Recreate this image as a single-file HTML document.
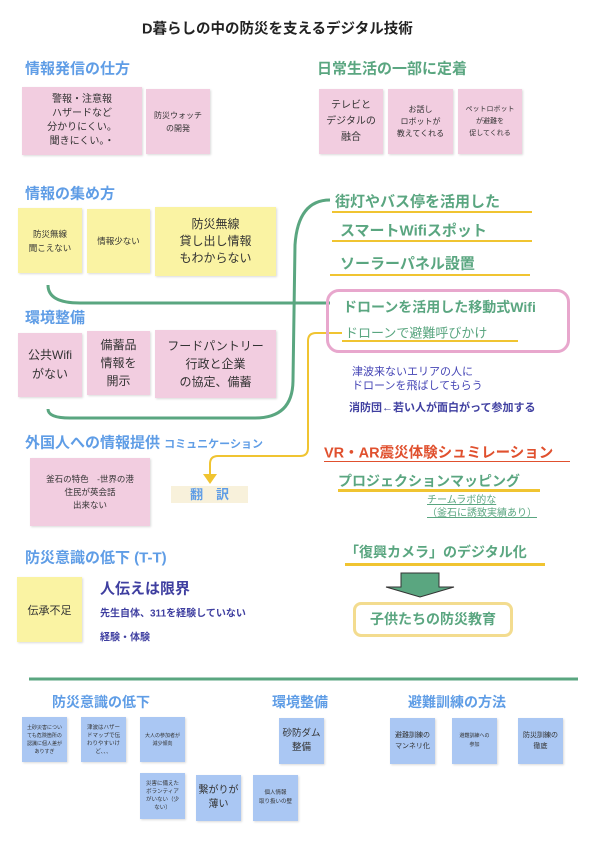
<!DOCTYPE html>
<html><head><meta charset="utf-8"><style>
*{margin:0;padding:0;box-sizing:border-box}
body{width:600px;height:849px;background:#fff;position:relative;overflow:hidden;font-family:"Liberation Sans","Noto Sans CJK JP",sans-serif}
.a{position:absolute;white-space:nowrap}
.c{position:absolute;white-space:nowrap;transform:translateY(-50%)}
.b{position:absolute;display:flex;align-items:center;justify-content:center;text-align:center;color:#333;box-shadow:1px 1px 2px rgba(0,0,0,.15)}
.pk{background:#f2cde0}.yl{background:#faf3a3}.bl{background:#aac7f3}
.h{font-weight:bold;color:#5f9de6;font-size:15px}
.g{font-weight:bold;color:#5aa680;font-size:15px}
.ul{position:absolute;height:2px;background:#f0c431}
</style></head><body>
<svg class="a" style="left:0;top:0" width="600" height="849">
<path d="M48,285 Q48,303 80,303 L330,303" fill="none" stroke="#5aa680" stroke-width="3"/>
<path d="M48,409 Q48,418 70,418 L255,418 Q293,418 293,380 L295,245 Q298,200 330,200" fill="none" stroke="#5aa680" stroke-width="3"/>
<path d="M342,333 L316,333 Q308,333 308,341 L308,448 Q308,456 300,456 L218,456 Q210,456 210,464 L210,476" fill="none" stroke="#f0c431" stroke-width="2"/>
<polygon points="203,474 217,474 210,484" fill="#f0c431"/>
<line x1="29" y1="679" x2="578" y2="679" stroke="#5aa680" stroke-width="3"/>
<polygon points="401,573 439,573 439,587 454,587 420,597 386,587 401,587" fill="#5aa680" stroke="#333" stroke-width="1"/>
</svg>
<div class="c" style="left:142px;top:28px;font-size:14.5px;font-weight:bold;color:#222">D暮らしの中の防災を支えるデジタル技術</div>

<div class="c h" style="left:25px;top:68px">情報発信の仕方</div>
<div class="b pk" style="left:22px;top:87px;width:120px;height:68px;font-size:10px;line-height:14px">警報・注意報<br>ハザードなど<br>分かりにくい。<br>聞きにくい。・</div>
<div class="b pk" style="left:146px;top:89px;width:64px;height:65px;font-size:8px;line-height:13px">防災ウォッチ<br>の開発</div>

<div class="c g" style="left:317px;top:68px">日常生活の一部に定着</div>
<div class="b pk" style="left:319px;top:89px;width:64px;height:65px;font-size:10px;line-height:16px">テレビと<br>デジタルの<br>融合</div>
<div class="b pk" style="left:388px;top:89px;width:65px;height:65px;font-size:8px;line-height:12px">お話し<br>ロボットが<br>教えてくれる</div>
<div class="b pk" style="left:458px;top:89px;width:64px;height:65px;font-size:7px;line-height:12px">ペットロボット<br>が避難を<br>促してくれる</div>

<div class="c h" style="left:25px;top:193px">情報の集め方</div>
<div class="b yl" style="left:18px;top:208px;width:64px;height:65px;font-size:8.5px;line-height:14px">防災無線<br>聞こえない</div>
<div class="b yl" style="left:87px;top:209px;width:63px;height:64px;font-size:8.5px">情報少ない</div>
<div class="b yl" style="left:155px;top:207px;width:121px;height:69px;font-size:12px;line-height:17px">防災無線<br>貸し出し情報<br>もわからない</div>

<div class="c g" style="left:335px;top:201px">街灯やバス停を活用した</div>
<div class="ul" style="left:332px;top:211px;width:200px"></div>
<div class="c g" style="left:340px;top:230px">スマートWifiスポット</div>
<div class="ul" style="left:332px;top:240px;width:200px"></div>
<div class="c g" style="left:340px;top:263px">ソーラーパネル設置</div>
<div class="ul" style="left:330px;top:274px;width:200px"></div>

<div class="a" style="left:326px;top:289px;width:244px;height:64px;border:3px solid #e8a7cd;border-radius:13px"></div>
<div class="c g" style="left:343px;top:307px;font-size:14px">ドローンを活用した移動式Wifi</div>
<div class="c" style="left:345px;top:332px;font-size:13px;color:#5aa680">ドローンで避難呼びかけ</div>
<div class="ul" style="left:342px;top:340px;width:176px"></div>

<div class="c h" style="left:25px;top:317px">環境整備</div>
<div class="b pk" style="left:18px;top:333px;width:64px;height:64px;font-size:12px;line-height:19px">公共Wifi<br>がない</div>
<div class="b pk" style="left:87px;top:331px;width:63px;height:64px;font-size:12px;line-height:18px">備蓄品<br>情報を<br>開示</div>
<div class="b pk" style="left:155px;top:330px;width:121px;height:68px;font-size:12px;line-height:18px">フードパントリー<br>行政と企業<br>の協定、備蓄</div>

<div class="c" style="left:352px;top:379px;font-size:11px;line-height:14px;color:#4545b5">津波来ないエリアの人に<br>ドローンを飛ばしてもらう</div>
<div class="c" style="left:349px;top:407px;font-size:11px;font-weight:bold;color:#3f3fa0">消防団←若い人が面白がって参加する</div>

<div class="c h" style="left:25px;top:442px">外国人への情報提供 <span style="font-size:11px">コミュニケーション</span></div>
<div class="b pk" style="left:30px;top:458px;width:120px;height:68px;font-size:8.5px;line-height:13px">釜石の特色　-世界の港<br>住民が英会話<br>出来ない</div>
<div class="a" style="left:171px;top:486px;width:77px;height:17px;background:#f8f1db;color:#5f9de6;font-weight:bold;font-size:13px;text-align:center;line-height:17px">翻　訳</div>

<div class="c" style="left:324px;top:452px;font-size:14.5px;font-weight:bold;color:#e0502e">VR・AR震災体験シュミレーション</div>
<div class="ul" style="left:324px;top:461px;width:246px;height:1px;background:#e0502e"></div>
<div class="c g" style="left:338px;top:481px;font-size:14px">プロジェクションマッピング</div>
<div class="ul" style="left:338px;top:489px;width:202px;height:3px"></div>
<div class="c" style="left:427px;top:507px;font-size:10px;line-height:13px;color:#5aa680;text-decoration:underline">チームラボ的な<br>（釜石に誘致実績あり）</div>

<div class="c h" style="left:25px;top:557px">防災意識の低下 (T-T)</div>
<div class="b yl" style="left:17px;top:577px;width:65px;height:65px;font-size:11px">伝承不足</div>
<div class="c" style="left:100px;top:588px;font-size:15px;font-weight:bold;color:#3f3fa0">人伝えは限界</div>
<div class="c" style="left:100px;top:612px;font-size:10px;font-weight:bold;color:#3f3fa0">先生自体、311を経験していない</div>
<div class="c" style="left:100px;top:636px;font-size:10px;font-weight:bold;color:#3f3fa0">経験・体験</div>

<div class="c g" style="left:345px;top:552px;font-size:14px">「復興カメラ」のデジタル化</div>
<div class="ul" style="left:345px;top:563px;width:200px;height:3px"></div>
<div class="a" style="left:353px;top:602px;width:160px;height:35px;border:3px solid #f3dc8f;border-radius:8px;color:#5aa680;font-weight:bold;font-size:14px;text-align:center;line-height:29px">子供たちの防災教育</div>

<div class="c h" style="left:52px;top:702px;font-size:14px">防災意識の低下</div>
<div class="c h" style="left:272px;top:702px;font-size:14px">環境整備</div>
<div class="c h" style="left:408px;top:702px;font-size:14px">避難訓練の方法</div>
<div class="b bl" style="left:22px;top:717px;width:45px;height:45px;font-size:5px;line-height:8px">土砂災害につい<br>ても危険箇所の<br>認識に個人差が<br>ありすぎ</div>
<div class="b bl" style="left:81px;top:717px;width:45px;height:45px;font-size:5.5px;line-height:8px">津波はハザー<br>ドマップで伝<br>わりやすいけ<br>ど、、、</div>
<div class="b bl" style="left:140px;top:717px;width:45px;height:45px;font-size:5px;line-height:8px">大人の参加者が<br>減少傾向</div>
<div class="b bl" style="left:140px;top:773px;width:45px;height:46px;font-size:5.5px;line-height:8px">災害に備えた<br>ボランティア<br>がいない（少<br>ない）</div>
<div class="b bl" style="left:196px;top:775px;width:45px;height:46px;font-size:10px;line-height:14px">繋がりが<br>薄い</div>
<div class="b bl" style="left:253px;top:775px;width:45px;height:46px;font-size:5.5px;line-height:9px">個人情報<br>取り扱いの壁</div>
<div class="b bl" style="left:279px;top:718px;width:45px;height:46px;font-size:9.5px;line-height:14px">砂防ダム<br>整備</div>
<div class="b bl" style="left:390px;top:718px;width:45px;height:46px;font-size:7px;line-height:11px">避難訓練の<br>マンネリ化</div>
<div class="b bl" style="left:452px;top:718px;width:45px;height:46px;font-size:5px;line-height:9px">避難訓練への<br>参加</div>
<div class="b bl" style="left:518px;top:718px;width:45px;height:46px;font-size:7px;line-height:11px">防災訓練の<br>徹底</div>
</body></html>
